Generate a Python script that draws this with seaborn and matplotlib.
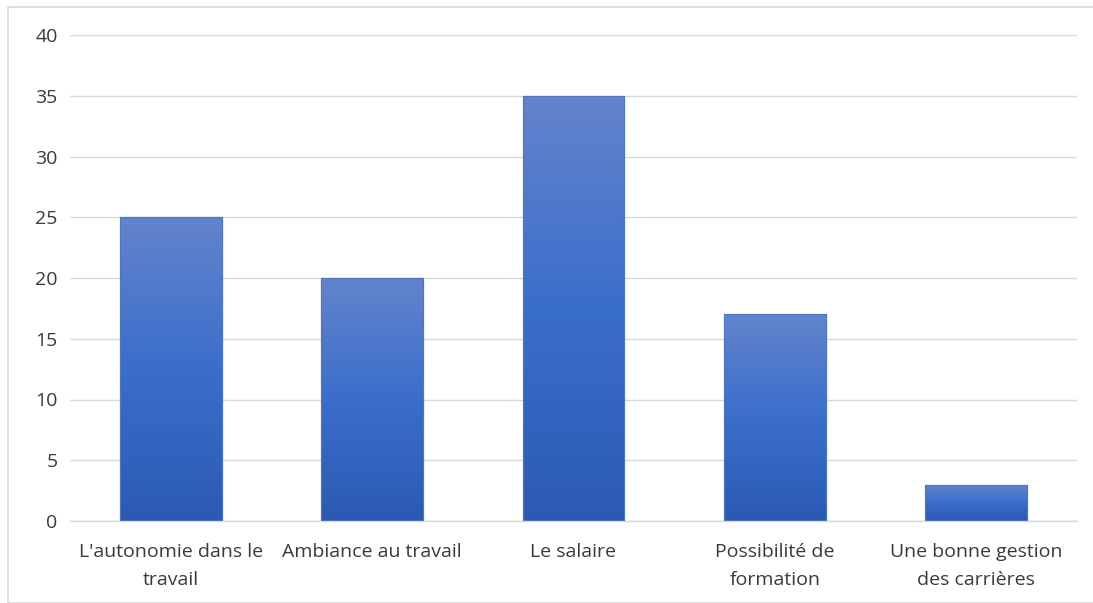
import matplotlib
matplotlib.use("Agg")
import matplotlib.pyplot as plt
import seaborn as sns
import numpy as np
import pandas as pd
from matplotlib.colors import LinearSegmentedColormap
from matplotlib.patches import Rectangle

categories = ["L'autonomie dans le\ntravail", "Ambiance au travail", "Le salaire",
              "Possibilité de\nformation", "Une bonne gestion\ndes carrières"]
values = [25, 20, 35, 17, 3]
yticks = [0, 5, 10, 15, 20, 25, 30, 35, 40]

sns.set_theme(style="white")
plt.rcParams['font.family'] = ['Open Sans', 'DejaVu Sans']

fig = plt.figure(figsize=(10.93, 6.03), dpi=100)
ax = fig.add_axes([70/1093, 1-521/603, 1007/1093, (521-35)/603])

df = pd.DataFrame({"cat": categories, "val": values})
sns.barplot(data=df, x="cat", y="val", ax=ax, width=0.505, color="#3a6ecb",
            edgecolor="#4a72c4", linewidth=0.8, zorder=2)

cmap = LinearSegmentedColormap.from_list("g", [(0, "#2b5ab3"), (0.5, "#3a6ecb"), (1, "#6384cc")])
grad = np.linspace(0, 1, 256).reshape(-1, 1)
for p in ax.patches:
    x0, y0 = p.get_x(), p.get_y()
    w, h = p.get_width(), p.get_height()
    im = ax.imshow(grad, extent=[x0, x0 + w, y0, y0 + h], origin="lower",
                   aspect="auto", cmap=cmap, zorder=2.5)
    im.set_clip_path(p)
    edge = Rectangle((x0, y0), w, h, fill=False, edgecolor="#4d76c8", linewidth=0.8, zorder=3)
    ax.add_patch(edge)

ax.set_xlim(-0.5, 4.5)
ax.set_ylim(0, 40)
ax.set_yticks(yticks)
ax.set_yticklabels([str(t) for t in yticks])
ax.yaxis.grid(True, color="#d9d9d9", linewidth=1.0, zorder=0)
ax.set_axisbelow(True)
for s in ["left", "right", "top"]:
    ax.spines[s].set_visible(False)
ax.spines["bottom"].set_color("#d9d9d9")
ax.spines["bottom"].set_linewidth(1.0)
ax.tick_params(axis="both", length=0, labelsize=14, labelcolor="#3a3a3a")
ax.tick_params(axis="y", pad=9)
ax.tick_params(axis="x", pad=15.5)
ax.set_xlabel("")
ax.set_ylabel("")
for lbl in ax.get_xticklabels():
    lbl.set_linespacing(1.75)

fig.patches.append(Rectangle((8/1093, 0), 1.0, 1 - 7/603, transform=fig.transFigure,
                             fill=False, edgecolor="#d9d9d9", linewidth=1.2))

fig.savefig("out.png", dpi=100)
